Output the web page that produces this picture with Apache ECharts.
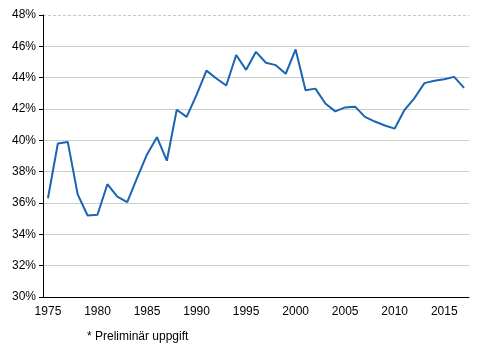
<!DOCTYPE html>
<html>
<head>
<meta charset="utf-8">
<script src="https://cdn.jsdelivr.net/npm/echarts@6/dist/echarts.min.js"></script>
<style>
  html, body { margin: 0; padding: 0; background: #fff; }
  #chart { width: 492px; height: 353px; }
</style>
</head>
<body>
<div id="chart"></div>
<script>
var years = ['1975', '1976', '1977', '1978', '1979', '1980', '1981', '1982', '1983', '1984',
  '1985', '1986', '1987', '1988', '1989', '1990', '1991', '1992', '1993', '1994',
  '1995', '1996', '1997', '1998', '1999', '2000', '2001', '2002', '2003', '2004',
  '2005', '2006', '2007', '2008', '2009', '2010', '2011', '2012', '2013', '2014',
  '2015', '2016', '2017'];
var values = [36.3, 39.8, 39.9, 36.55, 35.2, 35.25, 37.2, 36.4, 36.05, 37.6,
  39.1, 40.2, 38.7, 41.95, 41.5, 42.9, 44.45, 43.95, 43.5, 45.45,
  44.5, 45.65, 44.95, 44.8, 44.25, 45.8, 43.2, 43.3, 42.35, 41.85,
  42.1, 42.15, 41.5, 41.2, 40.95, 40.75, 41.95, 42.7, 43.65, 43.8,
  43.9, 44.05, 43.35];
var footnote = '* Preliminär uppgift';

var myChart = echarts.init(document.getElementById('chart'));
var font = 'Liberation Sans, Arial, sans-serif';
var grid = '#c8d0c8';

myChart.setOption({
  animation: false,
  textStyle: { fontFamily: font },
  grid: { left: 43, top: 15, right: 23, bottom: 56, containLabel: false },
  graphic: [{
    type: 'text', left: 87, top: 331,
    style: { text: footnote, fontSize: 12, fontFamily: font, fill: '#000' }
  }],
  xAxis: {
    type: 'category', data: years, boundaryGap: true,
    axisLine: { lineStyle: { color: '#000', width: 1 } },
    axisTick: { length: 4, interval: 4, alignWithLabel: false, lineStyle: { color: '#000' } },
    axisLabel: { interval: 4, fontSize: 12, color: '#000', margin: 9 },
    splitLine: { show: false }
  },
  yAxis: [{
    type: 'value', min: 30, max: 48, interval: 2,
    axisLine: { show: true, lineStyle: { color: '#000', width: 1 } },
    axisTick: { show: true, length: 4, lineStyle: { color: '#000' } },
    axisLabel: { fontSize: 12, color: '#000', margin: 7, formatter: '{value}%' },
    splitLine: { lineStyle: { color: [grid, grid, grid, grid, grid,
      grid, grid, grid, grid, 'rgba(0,0,0,0)'], width: 1 } }
  }, {
    type: 'value', min: 30, max: 48, interval: 18, position: 'right',
    axisLine: { show: false }, axisTick: { show: false }, axisLabel: { show: false },
    splitLine: { lineStyle: { color: '#c8c8c8', type: [3, 2], width: 1 } }
  }],
  series: [{
    type: 'line',
    data: values,
    showSymbol: false,
    lineStyle: { color: '#1a64b4', width: 2 },
    itemStyle: { color: '#1a64b4' }
  }]
});
</script>
</body>
</html>
